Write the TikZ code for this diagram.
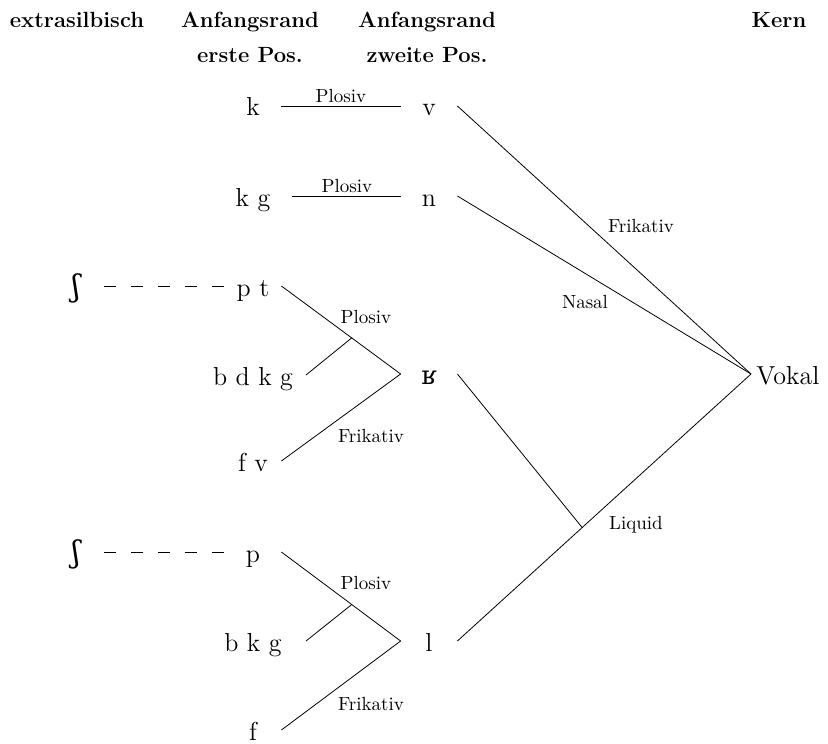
\documentclass[tikz,border=0pt]{standalone}
\usepackage{fontspec}
\newfontfamily\ipafont{DejaVu Serif}
\usetikzlibrary{calc}

\begin{document}
\begin{tikzpicture}[x=0.5pt, y=-0.5pt,
    head/.style={font=\fontsize{11}{17.5}\selectfont\bfseries, align=center, anchor=north, inner sep=0pt},
    seg/.style={font=\fontsize{13}{15}\selectfont, inner sep=0pt, text height=10pt, text depth=0pt, minimum width=28pt},
    vokal/.style={seg, minimum width=0pt, inner xsep=2.5pt, anchor=west},
    lbl/.style={font=\fontsize{9.5}{11}\selectfont, inner sep=1.5pt},
    extra/.style={dash pattern=on 6pt off 7.5pt}]
    \useasboundingbox (0,0) rectangle (828,743);

    % column heads
    \node[head] (hExtra) at (77,12) {extrasilbisch};
    \node[head] (hOnsetA) at (250,12) {Anfangsrand\\erste Pos.};
    \node[head] (hOnsetB) at (427,12) {Anfangsrand\\zweite Pos.};
    \node[head] (hKern) at (779,12) {Kern};

    % extrasilbisch
    \node[seg] (shA) at (76,286) {\ipafont\fontsize{15}{17}\selectfont ʃ};
    \node[seg] (shB) at (76,552) {\ipafont\fontsize{15}{17}\selectfont ʃ};

    % Anfangsrand, erste Position
    \node[seg] (k) at (253,106) {k};
    \node[seg] (kg) at (253,196) {k g};
    \node[seg] (pt) at (253,286) {p t};
    \node[seg] (bdkg) at (253,375) {b d k g};
    \node[seg] (fv) at (253,461) {f v};
    \node[seg] (p) at (253,552) {p};
    \node[seg] (bkg) at (253,641) {b k g};
    \node[seg] (f) at (253,730) {f};

    % Anfangsrand, zweite Position
    \node[seg] (v) at (429,106) {v};
    \node[seg] (n) at (429,196) {n};
    \node[seg] (r) at (429,374) {\ipafont ʁ};
    \node[seg] (l) at (429,641) {l};

    % Kern
    \node[vokal] (vok) at (751,374) {Vokal};

    % top rows
    \draw (k) -- node[lbl, above] {Plosiv} (v);
    \draw[shorten <=5.5pt] (kg) -- node[lbl, above, pos=0.55] {Plosiv} (n);

    % dashed links
    \draw[extra] (shA) -- (pt);
    \draw[extra] (shB) -- (p);

    % group before r
    \coordinate (jA) at ($(pt.east)!0.59!(r.west)$);
    \coordinate (bA) at ($(bdkg.center)+(53,0)$);
    \draw (pt.east) -- (r.west);
    \draw (fv.east) -- (r.west);
    \draw (bA) -- (jA);
    \node[lbl] (lPlosA) at (366,317) {Plosiv};
    \node[lbl] (lFrikA) at (371,436) {Frikativ};

    % group before l
    \coordinate (jB) at ($(p.east)!0.59!(l.west)$);
    \coordinate (bB) at ($(bkg.center)+(53,0)$);
    \draw (p.east) -- (l.west);
    \draw (f.east) -- (l.west);
    \draw (bB) -- (jB);
    \node[lbl] (lPlosB) at (366,583) {Plosiv};
    \node[lbl] (lFrikB) at (371,704) {Frikativ};

    % to the nucleus
    \coordinate (jL) at ($(l.east)!0.425!(vok.west)$);
    \draw (v.east) -- (vok.west);
    \draw (n.east) -- (vok.west);
    \draw (l.east) -- (vok.west);
    \draw (r.east) -- (jL);
    \node[lbl] (lFrikC) at (641,226) {Frikativ};
    \node[lbl] (lNasal) at (585,302) {Nasal};
    \node[lbl] (lLiquid) at (636,525) {Liquid};
\end{tikzpicture}
\end{document}
